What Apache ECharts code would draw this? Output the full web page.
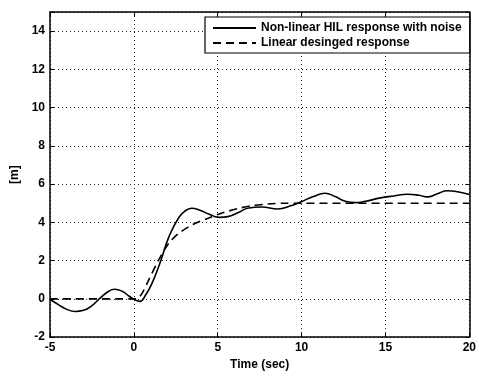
<!DOCTYPE html>
<html>
<head>
<meta charset="utf-8">
<script src="https://cdn.jsdelivr.net/npm/echarts@6/dist/echarts.min.js"></script>
<style>
html,body{margin:0;padding:0;background:#fff;}
#chart{width:479px;height:376px;}
</style>
</head>
<body>
<div id="chart"></div>
<script>
// Data
var hilTime = [-5, -4.5, -4, -3.5, -3, -2.5, -2, -1.5, -1.15, -0.7, -0.3, 0, 0.35, 0.7, 1.1, 1.6, 2.1, 2.7, 3.1, 3.45, 3.9, 4.5, 5.1, 5.6, 6.2, 6.85, 7.6, 8.6, 9.3, 9.9, 10.7, 11.4, 12.0, 12.6, 13.2, 13.8, 14.7, 15.5, 16.3, 17.0, 17.5, 18.1, 18.7, 19.3, 20];
var hilValue = [-0.02, -0.3, -0.55, -0.66, -0.6, -0.35, 0.05, 0.4, 0.5, 0.4, 0.15, -0.02, -0.13, 0.2, 0.85, 1.98, 3.27, 4.28, 4.62, 4.74, 4.65, 4.42, 4.26, 4.3, 4.5, 4.75, 4.8, 4.7, 4.85, 5.05, 5.35, 5.52, 5.35, 5.1, 5.03, 5.1, 5.28, 5.38, 5.47, 5.42, 5.33, 5.5, 5.65, 5.6, 5.46];
var linTime = [-5, 0, 0.2, 0.35, 0.55, 0.9, 1.5, 2.1, 2.7, 3.5, 4.5, 5.3, 6.2, 7.0, 8.0, 9.0, 10, 20];
var linValue = [0, 0, 0.01, 0.12, 0.38, 1.02, 2.07, 2.93, 3.44, 3.88, 4.24, 4.5, 4.72, 4.87, 4.96, 5.0, 5.0, 5.0];
var seriesNames = ['Non-linear HIL response with noise', 'Linear desinged response'];
var xTitle = 'Time (sec)';
var yTitle = '[m]';

function pairs(xs, ys) { return xs.map(function (x, i) { return [x, ys[i]]; }); }

var font = { fontFamily: 'Liberation Sans, Arial, sans-serif', fontSize: 12, fontWeight: 'bold', color: '#000' };
var gridLine = { show: true, lineStyle: { color: '#222', width: 1, type: [1, 3] } };

var chart = echarts.init(document.getElementById('chart'), null, { renderer: 'canvas' });
chart.setOption({
  animation: false,
  backgroundColor: '#fff',
  grid: { left: 50, right: 7, top: 12, bottom: 35, containLabel: false },
  legend: {
    orient: 'vertical', left: 205, top: 17,
    padding: [5, 8, 4, 7], itemGap: 3, itemWidth: 43, itemHeight: 12,
    borderColor: '#000', borderWidth: 1.2, backgroundColor: '#fff',
    itemStyle: { opacity: 0 },
    textStyle: font,
    data: [{ name: seriesNames[0] }, { name: seriesNames[1] }]
  },
  xAxis: [{
    type: 'value', min: -5, max: 20, interval: 5,
    name: xTitle, nameLocation: 'middle', nameGap: 21, nameTextStyle: font,
    axisLine: { show: true, onZero: false, lineStyle: { color: '#000', width: 1.5 } },
    axisTick: { show: true, inside: true, length: 4, lineStyle: { color: '#000' } },
    axisLabel: Object.assign({ margin: 5 }, font),
    splitLine: gridLine
  }, {
    type: 'value', min: -5, max: 20, interval: 5, position: 'top',
    axisLine: { show: true, onZero: false, lineStyle: { color: '#000', width: 1.5 } },
    axisTick: { show: true, inside: true, length: 4, lineStyle: { color: '#000' } },
    axisLabel: { show: false }, splitLine: { show: false }
  }],
  yAxis: [{
    type: 'value', min: -2, max: 15, interval: 2,
    name: yTitle, nameLocation: 'middle', nameGap: 23, nameTextStyle: font,
    axisLine: { show: true, onZero: false, lineStyle: { color: '#000', width: 1.5 } },
    axisTick: { show: true, inside: true, length: 4, lineStyle: { color: '#000' } },
    axisLabel: Object.assign({ margin: 5, formatter: function (v) { return v > 14 ? '' : String(v); } }, font),
    splitLine: gridLine
  }, {
    type: 'value', min: -2, max: 15, interval: 2, position: 'right',
    axisLine: { show: true, onZero: false, lineStyle: { color: '#000', width: 1.5 } },
    axisTick: { show: true, inside: true, length: 4, lineStyle: { color: '#000' } },
    axisLabel: { show: false }, splitLine: { show: false }
  }],
  series: [{
    name: seriesNames[0], type: 'line', xAxisIndex: 0, yAxisIndex: 0,
    data: pairs(hilTime, hilValue), smooth: 0.5, symbol: 'none',
    lineStyle: { color: '#000', width: 1.6 }, itemStyle: { color: '#000' }, z: 3
  }, {
    name: seriesNames[1], type: 'line', xAxisIndex: 0, yAxisIndex: 0,
    data: pairs(linTime, linValue), smooth: 0.3, symbol: 'none',
    lineStyle: { color: '#000', width: 1.6, type: [8, 5] }, itemStyle: { color: '#000' }, z: 2
  }]
});
</script>
</body>
</html>
